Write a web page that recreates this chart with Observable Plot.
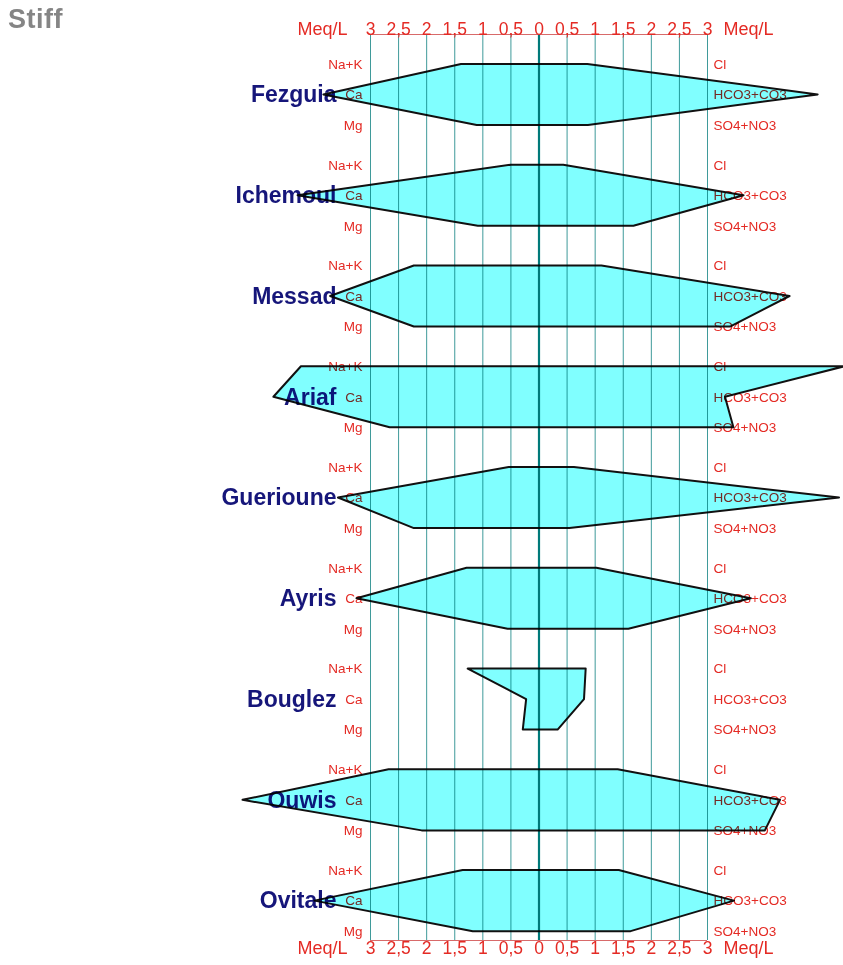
<!DOCTYPE html>
<html>
<head>
<meta charset="utf-8">
<script src="https://cdn.jsdelivr.net/npm/d3@7"></script>
<script src="https://cdn.jsdelivr.net/npm/@observablehq/plot@0.6"></script>
<style>
  html, body { margin: 0; padding: 0; background: #fff; }
  #wrap { position: relative; width: 843px; height: 965px; }
  #title { position: absolute; left: 8px; top: 4px; font: bold 27px "Liberation Sans", Arial, sans-serif; color: #858585; letter-spacing: 0.5px; }
  svg { display: block; }
</style>
</head>
<body>
<div id="wrap"><div id="title">Stiff</div><div id="chart"></div></div>
<script>
// Data (meq/L)
const stations = ["Fezguia", "Ichemoul", "Messad", "Ariaf", "Guerioune", "Ayris", "Bouglez", "Ouwis", "Ovitale"];
const naK  = [1.38, 0.49, 2.22, 4.23, 0.53, 1.28, 1.26, 2.67, 1.35];
const ca   = [3.83, 4.29, 3.71, 4.72, 3.57, 3.24, 0.22, 5.27, 3.99];
const mg   = [1.10, 1.08, 2.22, 2.65, 2.22, 0.55, 0.28, 2.08, 1.17];
const cl   = [0.87, 0.44, 1.12, 5.45, 0.63, 1.03, 0.84, 1.41, 1.43];
const hco3 = [4.97, 3.65, 4.47, 3.32, 5.35, 3.78, 0.81, 4.30, 3.48];
const so4  = [0.88, 1.69, 3.41, 3.47, 0.55, 1.60, 0.34, 4.03, 1.64];
const cationNames = ["Na+K", "Ca", "Mg"];
const anionNames = ["Cl", "HCO3+CO3", "SO4+NO3"];
const ticks = [-3, -2.5, -2, -1.5, -1, -0.5, 0, 0.5, 1, 1.5, 2, 2.5, 3];
const unitLabel = "Meq/L";

// layout helpers (row index units)
const GAP = 3.3;
const cations = [naK, ca, mg];
const anions = [cl, hco3, so4];
const rows = [];
stations.forEach((s, i) => {
  for (let r = 0; r < 3; r++) {
    rows.push({station: s, y: i * GAP + r, left: -cations[r][i], right: anions[r][i], cat: cationNames[r], an: anionNames[r]});
  }
});
const mids = stations.map((s, i) => ({station: s, y: i * GAP + 1}));
const fmt = v => String(Math.abs(v)).replace(".", ",");
const RED = "#e42a24";
const FONT = "Liberation Sans, Arial, sans-serif";

const chart = Plot.plot({
  width: 843,
  height: 965,
  marginLeft: 370,
  marginRight: 136,
  marginTop: 34,
  marginBottom: 25,
  x: {domain: [-3, 3], axis: null},
  y: {domain: [-0.98, 28.69], axis: null, reverse: true},
  style: {fontFamily: FONT, background: "white"},
  marks: [
    Plot.ruleX(ticks.filter(t => t !== 0), {stroke: "#3f9a9a", strokeWidth: 1}),
    Plot.ruleX([0], {stroke: "#007a7a", strokeWidth: 2.2}),
    Plot.ruleY([-0.98, 28.69], {x1: -3, x2: 3, stroke: "#d86a6a", strokeWidth: 1}),
    Plot.text(rows, {x: -3, y: "y", text: "cat", dx: -8, textAnchor: "end", fill: RED, fontSize: 13.5}),
    Plot.text(rows, {x: 3, y: "y", text: "an", dx: 6, textAnchor: "start", fill: RED, fontSize: 13.5}),
    Plot.text(mids, {x: -3, y: "y", text: "station", dx: -34, textAnchor: "end", fill: "#16167a", fontSize: 23, fontWeight: "bold"}),
    Plot.areaX(rows, {y: "y", x1: "left", x2: "right", z: "station", fill: "#80ffff", stroke: "#111", strokeWidth: 2, curve: "linear", mixBlendMode: "multiply"}),
    Plot.text(ticks, {x: d => d, text: fmt, frameAnchor: "top", dy: -12, fill: RED, fontSize: 17.5}),
    Plot.text(ticks, {x: d => d, text: fmt, frameAnchor: "bottom", dy: 13, fill: RED, fontSize: 17.5}),
    Plot.text([unitLabel], {x: -3, text: d => d, frameAnchor: "top", dy: -12, dx: -23, textAnchor: "end", fill: RED, fontSize: 18}),
    Plot.text([unitLabel], {x: 3, text: d => d, frameAnchor: "top", dy: -12, dx: 16, textAnchor: "start", fill: RED, fontSize: 18}),
    Plot.text([unitLabel], {x: -3, text: d => d, frameAnchor: "bottom", dy: 13, dx: -23, textAnchor: "end", fill: RED, fontSize: 18}),
    Plot.text([unitLabel], {x: 3, text: d => d, frameAnchor: "bottom", dy: 13, dx: 16, textAnchor: "start", fill: RED, fontSize: 18})
  ]
});
document.getElementById("chart").appendChild(chart);
</script>
</body>
</html>
